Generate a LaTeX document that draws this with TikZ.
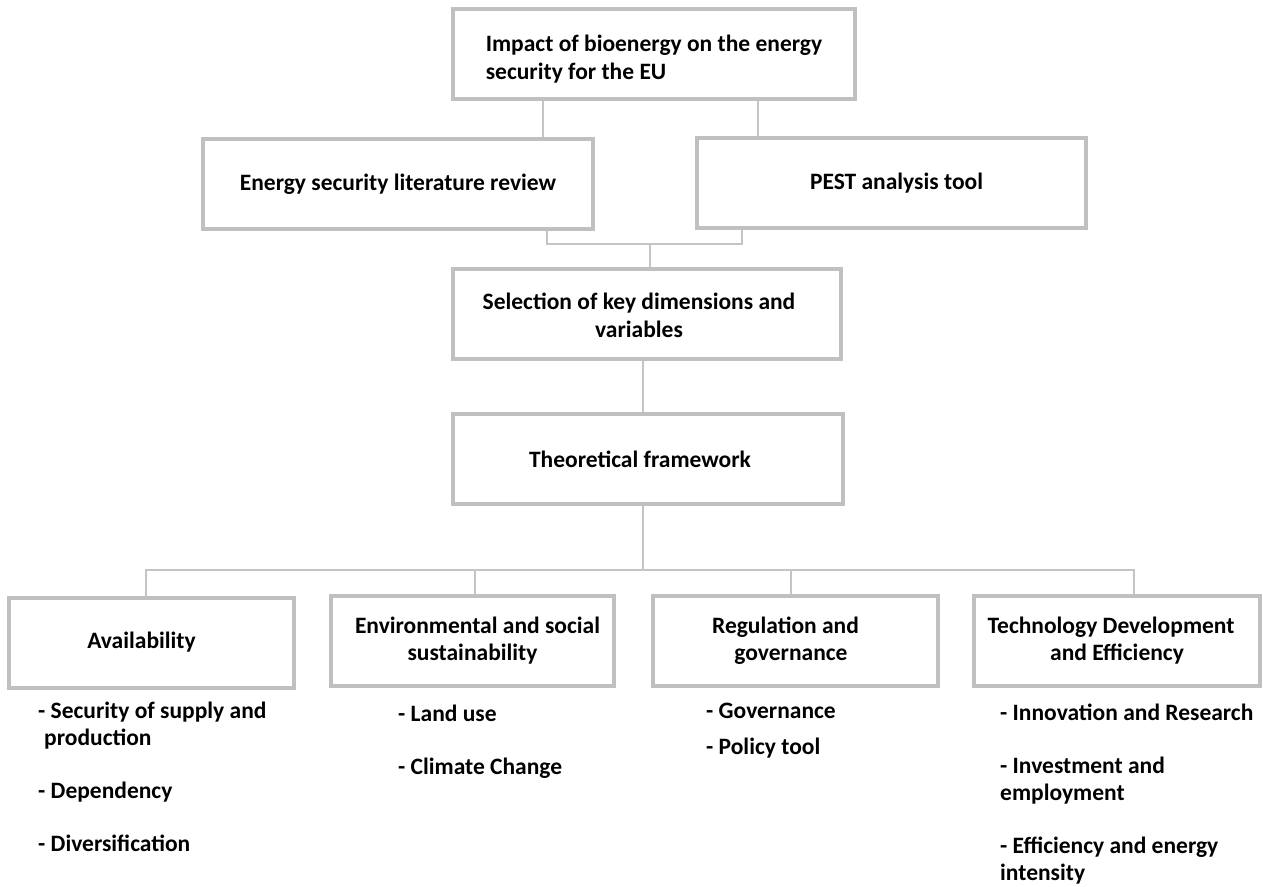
\documentclass[tikz,border=0pt]{standalone}
\usepackage{fontspec}
\setmainfont{Carlito}
\usetikzlibrary{positioning}

\definecolor{boxgray}{RGB}{192,192,192}
\definecolor{linegray}{RGB}{196,196,196}

\tikzset{
  txt/.style={font=\bfseries\fontsize{23.5}{27}\selectfont},
  block/.style={txt, draw=boxgray, line width=4pt, fill=white, align=center,
    inner sep=0pt, minimum width=#1, minimum height=90pt},
  block/.default=390pt,
  item/.style={txt, anchor=north west, align=left, inner sep=0pt},
  link/.style={draw=linegray, line width=1.5pt}
}

\begin{document}
\begin{tikzpicture}[x=1pt,y=-1pt]
  \fill[white] (0,0) rectangle (1263,886);
  \useasboundingbox (0,0) rectangle (1263,886);

  % upper part
  \node[block=402pt] (impact) at (654,53.5)
    {\raisebox{-7pt}[\height][\depth]{\begin{tabular}{@{}l@{}}Impact of bioenergy on the energy\\[1pt] security for the EU\end{tabular}}};
  \node[block=390pt] (review) at (398,184) {Energy security literature review};
  \node[block=389pt] (pest) at (891.5,183) {\hspace*{10pt}PEST analysis tool};
  \node[block=388pt] (select) at (647,313.5) {\raisebox{-5pt}[\height][\depth]{\begin{tabular}{@{}c@{}}Selection of key dimensions and\\[1pt] variables\end{tabular}}\hspace*{16pt}};
  \node[block=390pt] (frame) at (648,459) {Theoretical framework\hspace*{16pt}};

  % dimensions
  \node[block=285pt] (avail) at (151.5,642.5) {Availability\hspace*{20pt}};
  \node[block=283pt] (envir) at (472.5,641) {\hspace*{10pt}Environmental and social\\ sustainability};
  \node[block=285pt] (regul) at (795.5,641) {Regulation and\hspace*{20pt}\\ governance\hspace*{9pt}};
  \node[block=286pt] (techn) at (1117,641) {Technology Development\hspace*{12pt}\\ and Efficiency};

  % connectors
  \draw[link] (impact.south -| 543,0) -- (review.north -| 543,0);
  \draw[link] (impact.south -| 758,0) -- (pest.north -| 758,0);

  \coordinate (join) at (650,244);
  \draw[link] (review.south -| 547,0) |- (join) -| (pest.south -| 742,0);
  \draw[link] (join) -- (select.north -| join);
  \draw[link] (select.south -| 643,0) -- (frame.north -| 643,0);

  \coordinate (split) at (643,570);
  \draw[link] (frame.south -| split) -- (split);
  \draw[link] (avail.north -| 146,0) |- (split);
  \draw[link] (split) -| (techn.north -| 1134,0);
  \draw[link] (split -| 475,0) -- (envir.north -| 475,0);
  \draw[link] (split -| 791,0) -- (regul.north -| 791,0);

  % variables
  \node[item] (availvar) at (38,702)
    {- Security of supply and\\ \hspace*{6pt}production\\[26pt] - Dependency\\[26pt] - Diversification};
  \node[item] (envirvar) at (398,705) {- Land use\\[26pt] - Climate Change};
  \node[item] (regulvar) at (706,703) {- Governance\\[9pt] - Policy tool};
  \node[item] (technvar) at (1000,704)
    {- Innovation and Research\\[26pt] - Investment and\\ employment\\[26pt] - Efficiency and energy\\ intensity};
\end{tikzpicture}
\end{document}
